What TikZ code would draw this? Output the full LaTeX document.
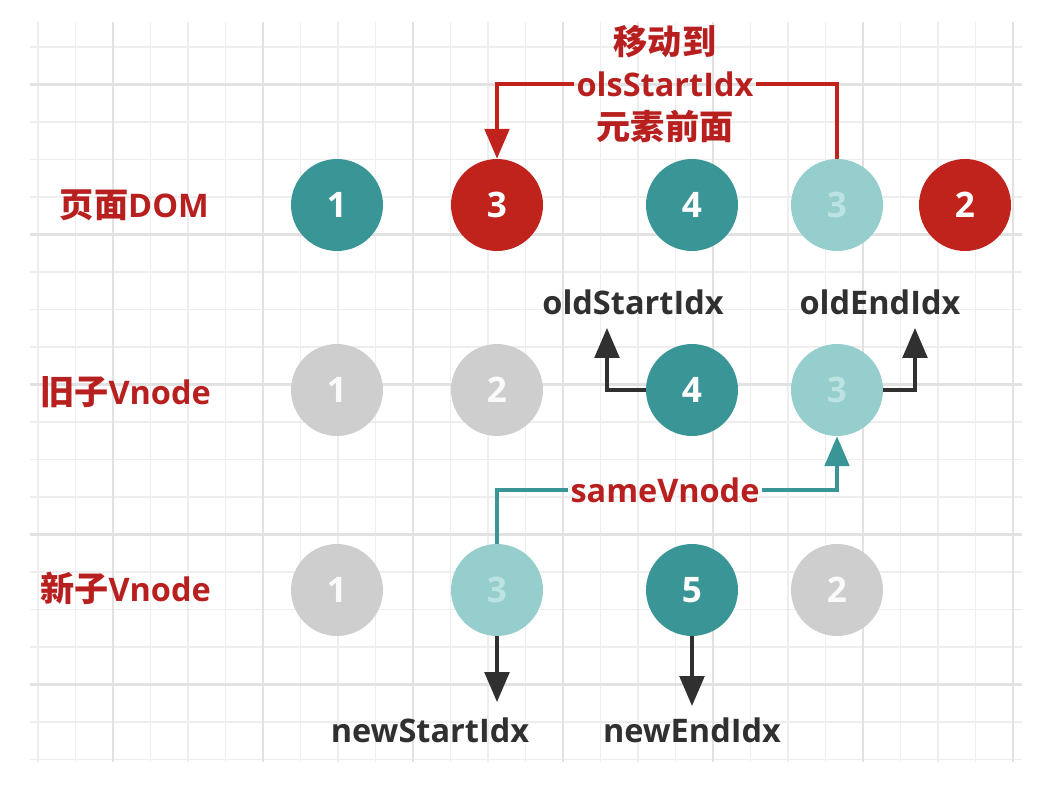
\documentclass[tikz,border=0pt]{standalone}
\usepackage{fontspec}
\setmainfont{Open Sans}
\newfontfamily\cjk{Noto Sans CJK SC}[Scale=1.05]
\usetikzlibrary{arrows.meta}

\definecolor{tealdark}{RGB}{58,150,150}
\definecolor{teallight}{RGB}{150,206,206}
\definecolor{tealtext}{RGB}{188,226,226}
\definecolor{redball}{RGB}{192,34,28}
\definecolor{redtext}{RGB}{184,32,32}
\definecolor{grayball}{RGB}{206,206,206}
\definecolor{darktext}{RGB}{48,48,48}
\definecolor{gridminor}{RGB}{238,238,238}
\definecolor{gridmajor}{RGB}{226,226,226}

\tikzset{
  ball/.style={circle,minimum size=1.84cm,inner sep=0pt,
    font=\fontsize{20}{22}\selectfont\bfseries,text=white},
  tealball/.style={ball,fill=tealdark},
  paleball/.style={ball,fill=teallight,text=tealtext},
  redball/.style={ball,fill=redball},
  grayball/.style={ball,fill=grayball,text=white!96!gray},
  rowlabel/.style={anchor=east,text=redtext,font=\fontsize{18.5}{22}\selectfont\bfseries},
  idxlabel/.style={text=darktext,font=\fontsize{18.5}{22}\selectfont\bfseries},
  tip/.style={-{Triangle[width=14pt,length=17pt]}},
  darkline/.style={draw=darktext,line width=2pt},
  redline/.style={draw=redball,line width=2pt},
  tealline/.style={draw=tealdark,line width=2pt}
}

\begin{document}
\begin{tikzpicture}[x=0.02cm,y=-0.02cm]
	\useasboundingbox (0,0) rectangle (1052,804);
	%grid
	\begin{scope}
		\clip (30,22) rectangle (1022,762);
		\foreach \k in {0,...,26} \draw[gridminor,line width=1pt] (38+37.5*\k,22) -- (38+37.5*\k,762);
		\foreach \k in {0,...,19} \draw[gridminor,line width=1pt] (30,47+37.5*\k) -- (1022,47+37.5*\k);
		\foreach \k in {2,6,...,26} \draw[gridmajor,line width=1.2pt] (38+37.5*\k,22) -- (38+37.5*\k,762);
		\foreach \k in {1,5,...,17} \draw[gridmajor,line width=1.2pt] (30,47+37.5*\k) -- (1022,47+37.5*\k);
	\end{scope}
	
	\node[rowlabel] (dom) at (215,205) {{\cjk 页面}DOM};
	\node[rowlabel] (old) at (217,392) {{\cjk 旧子}Vnode};
	\node[rowlabel] (new) at (217,588) {{\cjk 新子}Vnode};
	
	%page dom
	\node[tealball] (d1) at (337,205) {1};
	\node[redball] (d2) at (497,205) {3};
	\node[tealball] (d3) at (692,205) {4};
	\node[paleball] (d4) at (837,205) {3};
	\node[redball] (d5) at (965,205) {2};
	
	%old children
	\node[grayball] (o1) at (337,390) {1};
	\node[grayball] (o2) at (497,390) {2};
	\node[tealball] (o3) at (692,390) {4};
	\node[paleball] (o4) at (837,390) {3};
	
	%new children
	\node[grayball] (n1) at (337,590) {1};
	\node[paleball] (n2) at (497,590) {3};
	\node[tealball] (n3) at (692,590) {5};
	\node[grayball] (n4) at (837,590) {2};
	
	\node[text=redtext,align=center,inner sep=1pt,font=\fontsize{18.5}{24}\selectfont\bfseries] (move) at (665,84) {{\cjk 移动到}\\olsStartIdx\\{\cjk 元素前面}};
	\draw[redline] (d4.north) |- (move.east);
	\draw[redline,tip] (move.west) -| (d2.north);
	
	\node[text=redtext,inner sep=1pt,font=\fontsize{18.5}{22}\selectfont\bfseries] (same) at (665,490) {sameVnode};
	\draw[tealline] (n2.north) |- (same.west);
	\draw[tealline,tip] (same.east) -| (o4.south);
	
	\node[idxlabel] (osl) at (633,302) {oldStartIdx};
	\node[idxlabel] (oel) at (880,302) {oldEndIdx};
	\node[idxlabel] (nsl) at (430,730) {newStartIdx};
	\node[idxlabel] (nel) at (692,730) {newEndIdx};
	\coordinate (os) at (607,328);
	\coordinate (oe) at (915,328);
	\coordinate (ns) at (497,702);
	\coordinate (ne) at (692,706);
	\draw[darkline,tip] (o3.west) -| (os);
	\draw[darkline,tip] (o4.east) -| (oe);
	\draw[darkline,tip] (n2.south) -- (ns);
	\draw[darkline,tip] (n3.south) -- (ne);
\end{tikzpicture}
\end{document}
